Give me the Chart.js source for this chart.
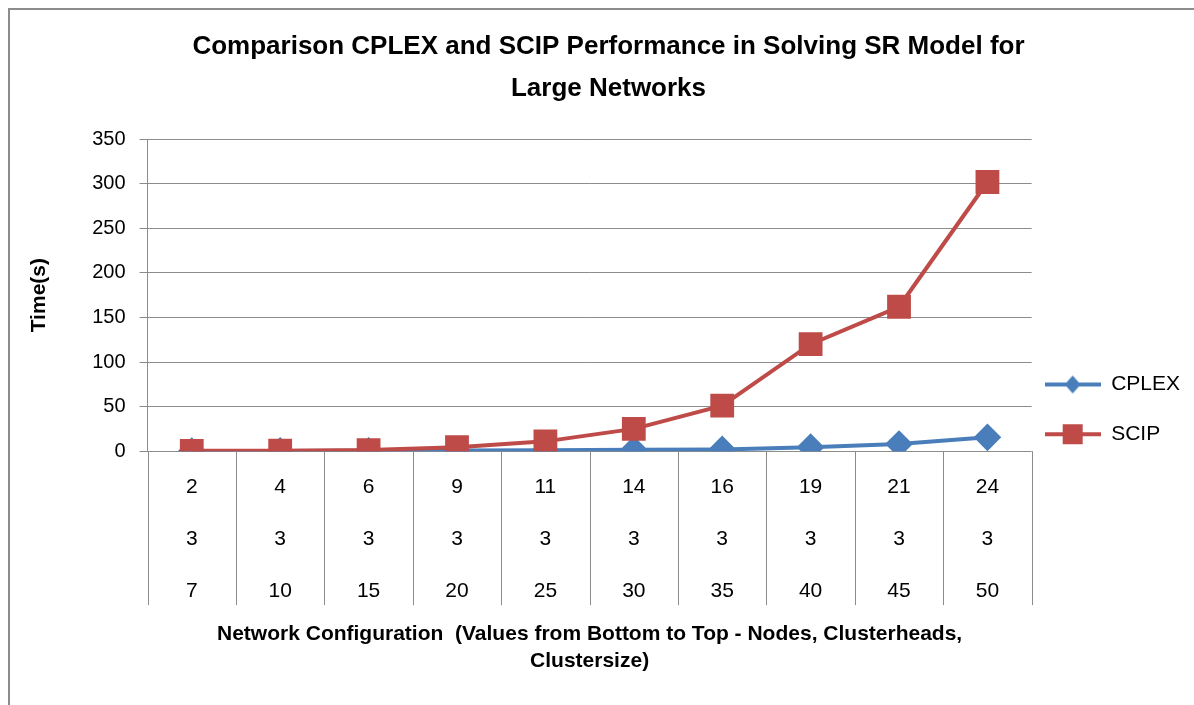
<!DOCTYPE html>
<html>
<head>
<meta charset="utf-8">
<script src="https://cdn.jsdelivr.net/npm/chart.js@4.4.1/dist/chart.umd.min.js"></script>
<style>
  body { margin: 0; background: #fff; }
  #frame { position: absolute; left: 8px; top: 8px; width: 1200px; height: 720px; border: 2px solid #8c8c8c; box-sizing: border-box; }
  #wrap { position: absolute; left: 0; top: 0; width: 1194px; height: 705px; }
</style>
</head>
<body>
<div id="frame"></div>
<div id="wrap"><canvas id="chartLine"></canvas></div>
<script>
  const nodes = ['2', '4', '6', '9', '11', '14', '16', '19', '21', '24'];
  const clusterheads = ['3', '3', '3', '3', '3', '3', '3', '3', '3', '3'];
  const clustersize = ['7', '10', '15', '20', '25', '30', '35', '40', '45', '50'];
  const cplex = [0.2, 0.3, 0.5, 0.8, 1, 1.5, 2, 4.5, 8, 15.5];
  const scip = [0.4, 0.6, 1.2, 4.5, 11, 25, 51, 120, 162, 302];
  const yTicks = [0, 50, 100, 150, 200, 250, 300, 350];

  const labels = nodes.map((n, i) => [n, clusterheads[i], clustersize[i]]);
  const fontFam = "'Liberation Sans', Arial, sans-serif";

  // icono da legenda: linha com marcador
  function legendIcon(color, shape) {
    const c = document.createElement('canvas');
    c.width = 56; c.height = 24;
    const g = c.getContext('2d');
    g.strokeStyle = color; g.lineWidth = 4;
    g.beginPath(); g.moveTo(0, 12); g.lineTo(56, 12); g.stroke();
    g.fillStyle = color;
    if (shape === 'diamond') {
      g.beginPath(); g.moveTo(28, 3); g.lineTo(36, 12); g.lineTo(28, 21); g.lineTo(20, 12); g.closePath(); g.fill();
    } else {
      g.fillRect(18, 2, 20, 20);
    }
    return c;
  }
  const icons = [legendIcon('#4a7ebb', 'diamond'), legendIcon('#be4b48', 'square')];

  // linhas verticais da tabela abaixo do eixo x
  const tableLines = {
    id: 'tableLines',
    afterDraw(chart) {
      const xs = chart.scales.x;
      const area = chart.chartArea;
      const n = chart.data.labels.length;
      const ctx = chart.ctx;
      ctx.save();
      ctx.strokeStyle = '#8c8c8c';
      ctx.lineWidth = 1;
      for (let i = 0; i <= n; i++) {
        let x;
        if (i === 0) x = area.left;
        else if (i === n) x = area.right;
        else x = (xs.getPixelForValue(i - 1) + xs.getPixelForValue(i)) / 2;
        x = Math.round(x) + 0.5;
        ctx.beginPath();
        ctx.moveTo(x, area.bottom);
        ctx.lineTo(x, area.bottom + 154);
        ctx.stroke();
      }
      ctx.restore();
    }
  };

  new Chart(document.getElementById('chartLine'), {
    type: 'line',
    data: {
      labels: labels,
      datasets: [
        {
          label: 'CPLEX',
          data: cplex,
          borderColor: '#4a7ebb',
          backgroundColor: '#4a7ebb',
          borderWidth: 4,
          pointStyle: 'rectRot',
          pointRadius: 11,
          pointHoverRadius: 11,
          tension: 0,
          order: 2
        },
        {
          label: 'SCIP',
          data: scip,
          borderColor: '#be4b48',
          backgroundColor: '#be4b48',
          borderWidth: 4,
          pointStyle: 'rect',
          pointRadius: 14,
          pointHoverRadius: 14,
          tension: 0,
          order: 1
        }
      ]
    },
    options: {
      responsive: true,
      maintainAspectRatio: false,
      animation: false,
      layout: { padding: { left: 27, right: 4, top: 4, bottom: 30 } },
      plugins: {
        title: {
          display: true,
          text: ['Comparison CPLEX and SCIP Performance in Solving SR Model for', 'Large Networks'],
          color: '#000',
          font: { family: fontFam, size: 26, weight: 'bold', lineHeight: 1.6 },
          padding: { top: 22, bottom: 30 }
        },
        legend: {
          display: true,
          position: 'right',
          align: 'start',
          // titulo vazio so para empurrar a legenda para baixo
          title: { display: true, text: '', font: { size: 1, lineHeight: 1 }, padding: { top: 356, bottom: 0 } },
          labels: {
            color: '#000',
            font: { family: fontFam, size: 21, lineHeight: 1.75 },
            usePointStyle: true,
            pointStyleWidth: 56,
            padding: 13,
            generateLabels: function (chart) {
              return chart.data.datasets.map((ds, i) => ({
                text: [ds.label],
                fontColor: '#000',
                pointStyle: icons[i],
                datasetIndex: i,
                hidden: false,
                lineWidth: 0
              }));
            }
          }
        },
        tooltip: { enabled: false }
      },
      scales: {
        x: {
          offset: true,
          grid: { display: false },
          border: { display: false },
          ticks: {
            color: '#000',
            font: { family: fontFam, size: 21, lineHeight: 2.48 },
            padding: 2,
            maxRotation: 0,
            autoSkip: false
          },
          title: {
            display: true,
            text: ['Network Configuration  (Values from Bottom to Top - Nodes, Clusterheads,', 'Clustersize)'],
            color: '#000',
            font: { family: fontFam, size: 21, weight: 'bold', lineHeight: 1.3 },
            padding: { top: 1, bottom: 0 }
          }
        },
        y: {
          min: 0,
          max: 350,
          afterBuildTicks: function (axis) {
            axis.ticks = yTicks.map(v => ({ value: v }));
          },
          grid: {
            color: '#8c8c8c',
            lineWidth: 1,
            tickLength: 8
          },
          border: { display: true, color: '#8c8c8c' },
          ticks: {
            color: '#000',
            font: { family: fontFam, size: 20 },
            padding: 14
          },
          title: {
            display: true,
            text: 'Time(s)',
            color: '#000',
            font: { family: fontFam, size: 21, weight: 'bold' },
            padding: { top: 0, bottom: 26 }
          }
        }
      }
    },
    plugins: [tableLines]
  });
</script>
</body>
</html>
